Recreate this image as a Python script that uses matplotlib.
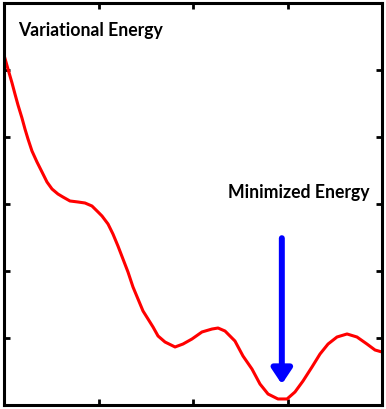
import matplotlib.pyplot as plt
import numpy as np

# energy curve
x = [0.000, 0.042, 0.085, 0.116, 0.148, 0.190, 0.222, 0.254, 0.296, 0.349,
     0.402, 0.455, 0.508, 0.571, 0.624, 0.698, 0.783, 0.857, 0.931, 0.995,
     1.037, 1.101, 1.153, 1.206, 1.259, 1.312, 1.365, 1.418, 1.471, 1.524,
     1.577, 1.630, 1.704, 1.810, 1.894, 1.989, 2.095, 2.201, 2.265, 2.339,
     2.444, 2.529, 2.624, 2.709, 2.794, 2.899, 2.995, 3.079, 3.164, 3.259,
     3.344, 3.429, 3.524, 3.630, 3.735, 3.841, 3.926, 4.000]
energy = [5.224, 5.015, 4.806, 4.642, 4.478, 4.284, 4.119, 3.970, 3.791, 3.627,
          3.478, 3.328, 3.224, 3.149, 3.104, 3.045, 3.030, 3.015, 2.970, 2.881,
          2.821, 2.701, 2.552, 2.373, 2.179, 1.985, 1.761, 1.582, 1.403, 1.284,
          1.164, 1.030, 0.940, 0.866, 0.910, 0.985, 1.090, 1.134, 1.149, 1.104,
          0.955, 0.731, 0.537, 0.313, 0.164, 0.090, 0.090, 0.194, 0.358, 0.567,
          0.761, 0.910, 1.015, 1.060, 1.015, 0.910, 0.821, 0.791]

title_left = "Variational Energy"
title_min = "Minimized Energy"

fig = plt.figure(figsize=(3.86, 4.10), dpi=100)
ax = fig.add_axes([4/386, 4/410, 378/386, 402/410])
ax.plot(x, energy, color='red', lw=2.2, solid_joinstyle='round')

ax.set_xlim(0, 4)
ax.set_ylim(0, 6)
ax.set_xticks([1, 2, 3])
ax.set_yticks([1, 2, 3, 4, 5])
ax.tick_params(direction='in', length=4, width=2, labelbottom=False, labelleft=False,
               top=True, right=True)
for s in ax.spines.values():
    s.set_linewidth(2.2)

ax.annotate("", xy=(2.94, 0.31), xytext=(2.94, 2.49),
            arrowprops=dict(arrowstyle='-|>,head_length=0.9,head_width=0.6',
                            color='blue', lw=4.3, shrinkA=0, shrinkB=0))

ax.text(0.148, 5.60, title_left, fontsize=12.7, fontweight='bold', family='Lato',
        va='center', ha='left')
ax.text(2.37, 3.18, title_min, fontsize=12.7, fontweight='bold', family='Lato',
        va='center', ha='left')

fig.savefig("out.png", dpi=100)
